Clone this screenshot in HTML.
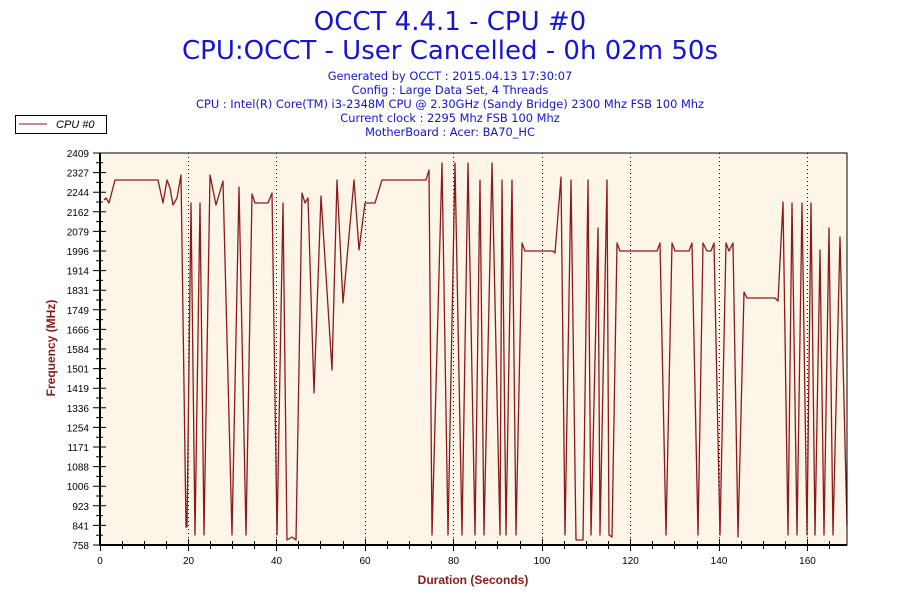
<!DOCTYPE html>
<html><head><meta charset="utf-8"><style>
html,body{margin:0;padding:0;background:#fff;}
svg{display:block;}
</style></head><body>
<svg width="900" height="600" xmlns="http://www.w3.org/2000/svg" font-family="Liberation Sans, sans-serif">
<rect width="900" height="600" fill="#fff"/>
<g font-family="DejaVu Sans, sans-serif">
<text x="450" y="30" text-anchor="middle" font-size="26" fill="#1414d2">OCCT 4.4.1 - CPU #0</text>
<text x="450" y="59" text-anchor="middle" font-size="26" fill="#1414d2">CPU:OCCT - User Cancelled - 0h 02m 50s</text>
<g font-size="11.4" fill="#1414d2" text-anchor="middle">
<text x="450" y="80">Generated by OCCT : 2015.04.13 17:30:07</text>
<text x="450" y="94">Config : Large Data Set, 4 Threads</text>
<text x="450" y="108">CPU : Intel(R) Core(TM) i3-2348M CPU @ 2.30GHz (Sandy Bridge) 2300 Mhz FSB 100 Mhz</text>
<text x="450" y="122">Current clock : 2295 Mhz FSB 100 Mhz</text>
<text x="450" y="136">MotherBoard : Acer: BA70_HC</text>
</g>
</g>
<rect x="15.5" y="115.5" width="91" height="18" fill="#fff" stroke="#000"/>
<line x1="19" y1="124" x2="47" y2="124" stroke="#8b1a1a" stroke-width="1"/>
<text x="56" y="128" font-size="11" font-style="italic" fill="#000">CPU #0</text>
<rect x="100" y="153" width="747" height="392" fill="#fdf5e8"/>
<g stroke="#000" stroke-dasharray="1,3" stroke-width="1">
<line x1="188.5" y1="153" x2="188.5" y2="545"/><line x1="276.5" y1="153" x2="276.5" y2="545"/>
<line x1="365.5" y1="153" x2="365.5" y2="545"/><line x1="453.5" y1="153" x2="453.5" y2="545"/>
<line x1="542.5" y1="153" x2="542.5" y2="545"/><line x1="630.5" y1="153" x2="630.5" y2="545"/>
<line x1="719.5" y1="153" x2="719.5" y2="545"/><line x1="807.5" y1="153" x2="807.5" y2="545"/>
</g>
<polyline fill="none" stroke="#8b1a1a" stroke-width="1.3" stroke-linejoin="round" points="
104,200 106,198 109,203 115,180 158,180 163,203 167,180 170,188 173,205 177,198 181,175 186,527 187,527 191,203 195,535 200,203 204,535 210,175 216,205 223,181 232,535 239,187 246,535 252,194 255,203 268,203 272,193 277,535 283,203 287,540 292,537 296,540 302,193 305,203 308,198 314,393 321,196 332,370 337,180 343,303 354,180 359,250 365,203 375,203 382,180 426,180 429,170 432,535 442,163 448,535 455,163 462,535 468,163 475,535 480,180 484,535 492,163 500,535 502,180 506,535 512,180 516,535 522,243 525,251 553,251 555,253 561,177 565,535 571,180 576,540 583,540 588,180 591,535 598,228 600,535 607,180 609,535 612,537 617,243 620,251 657,251 660,243 666,535 672,243 675,251 689,251 692,243 698,535 703,243 707,251 711,251 714,243 720,535 726,243 729,251 733,243 738,537 744,292 747,298 775,298 778,301 783,202 788,535 792,203 797,535 802,203 807,535 811,203 815,535 820,250 824,535 829,228 833,535 840,237 847,525"/>
<rect x="100" y="153" width="747" height="392" fill="none" stroke="#000" stroke-width="1"/>
<line x1="100" y1="153" x2="100" y2="546" stroke="#000" stroke-width="2"/>
<line x1="99" y1="545" x2="847" y2="545" stroke="#000" stroke-width="2"/>
<g stroke="#000" stroke-width="1">
<path d="M93,153H106M93,172.6H106M93,192.2H106M93,211.8H106M93,231.4H106M93,251H106M93,270.6H106M93,290.2H106M93,309.8H106M93,329.4H106M93,349H106M93,368.6H106M93,388.2H106M93,407.8H106M93,427.4H106M93,447H106M93,466.6H106M93,486.2H106M93,505.8H106M93,525.4H106M93,545H106"/>
<path d="M96,162.8H103M96,182.4H103M96,202H103M96,221.6H103M96,241.2H103M96,260.8H103M96,280.4H103M96,300H103M96,319.6H103M96,339.2H103M96,358.8H103M96,378.4H103M96,398H103M96,417.6H103M96,437.2H103M96,456.8H103M96,476.4H103M96,496H103M96,515.6H103M96,535.2H103"/>
</g>
<g stroke="#000" stroke-width="1">
<path d="M100.5,539V551M122.5,541V549M144.5,541V549M166.5,541V549M188.5,539V551M210.5,541V549M232.5,541V549M254.5,541V549M276.5,539V551M298.5,541V549M320.5,541V549M343.5,541V549M365.5,539V551M387.5,541V549M409.5,541V549M431.5,541V549M453.5,539V551M475.5,541V549M497.5,541V549M520.5,541V549M542.5,539V551M564.5,541V549M586.5,541V549M608.5,541V549M630.5,539V551M652.5,541V549M674.5,541V549M697.5,541V549M719.5,539V551M741.5,541V549M763.5,541V549M785.5,541V549M807.5,539V551M829.5,541V549"/>
</g>
<g font-size="10" fill="#000" text-anchor="end">
<text x="89" y="157">2409</text><text x="89" y="176.6">2327</text><text x="89" y="196.2">2244</text><text x="89" y="215.8">2162</text><text x="89" y="235.4">2079</text><text x="89" y="255">1996</text><text x="89" y="274.6">1914</text><text x="89" y="294.2">1831</text><text x="89" y="313.8">1749</text><text x="89" y="333.4">1666</text><text x="89" y="353">1584</text><text x="89" y="372.6">1501</text><text x="89" y="392.2">1419</text><text x="89" y="411.8">1336</text><text x="89" y="431.4">1254</text><text x="89" y="451">1171</text><text x="89" y="470.6">1088</text><text x="89" y="490.2">1006</text><text x="89" y="509.8">923</text><text x="89" y="529.4">841</text><text x="89" y="549">758</text>
</g>
<g font-size="10" fill="#000" text-anchor="middle">
<text x="100" y="564">0</text><text x="188.5" y="564">20</text><text x="276.5" y="564">40</text><text x="365" y="564">60</text><text x="453.5" y="564">80</text><text x="542" y="564">100</text><text x="630.5" y="564">120</text><text x="719" y="564">140</text><text x="807.5" y="564">160</text>
</g>
<text x="473" y="584" text-anchor="middle" font-size="12" font-weight="bold" fill="#8b1a1a">Duration (Seconds)</text>
<text transform="translate(55,348) rotate(-90)" text-anchor="middle" font-size="12" font-weight="bold" fill="#8b1a1a">Frequency (MHz)</text>
</svg>
</body></html>
